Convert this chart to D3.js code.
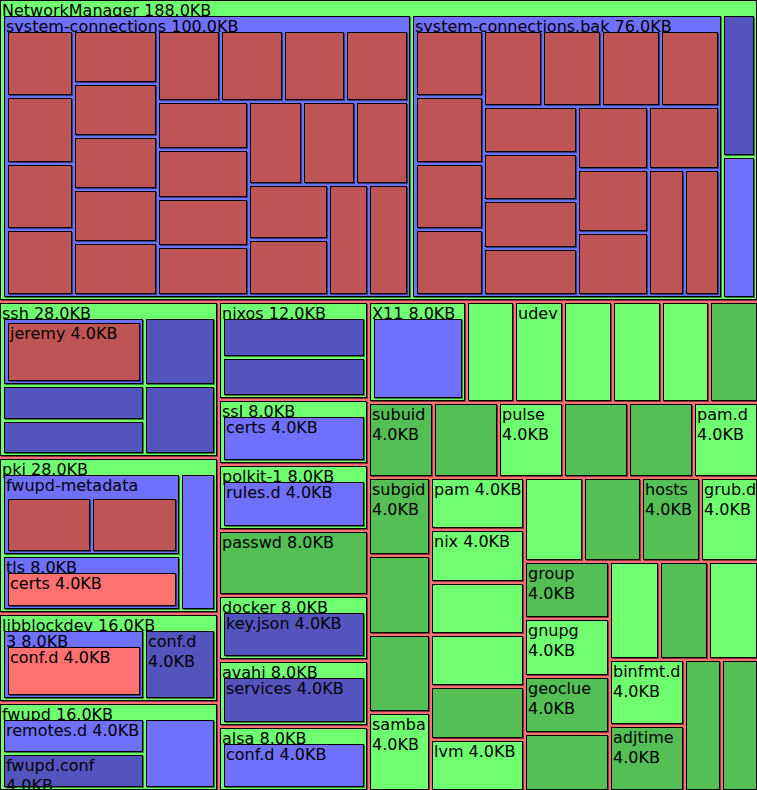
<!DOCTYPE html>
<html><head><meta charset="utf-8">
<script src="https://cdn.jsdelivr.net/npm/d3@7"></script>
<style>html,body{margin:0;padding:0;background:#fff;} svg{display:block}</style>
</head><body>
<svg id="chart" width="757" height="790"></svg>
<script>
// ---------------- DATA (sizes in KB, "d" = directory, "f" = file) ----------------
const etcNames = ["NetworkManager","ssh","pki","libblockdev","fwupd",
  "nixos","ssl","polkit-1","passwd","docker","avahi","alsa",
  "X11","wireplumber","udev","tmpfiles.d","systemd","sysctl.d","vconsole.conf",
  "subuid","resolv.conf","pulse","protocols","os-release","pam.d",
  "subgid","sudoers","services","samba",
  "pam","nix","modprobe.d","modules-load.d","nsswitch.conf","lvm",
  "iproute2","host.conf","hosts","grub.d",
  "group","gnupg","geoclue","environment",
  "dbus-1","crypttab","default",
  "binfmt.d","adjtime",
  "bashrc","asound.conf"];
const etcKinds = ["d","d","d","d","d",
  "d","d","d","f","d","d","d",
  "d","d","d","d","d","d","f",
  "f","f","d","f","f","d",
  "f","f","f","d",
  "d","d","d","d","f","d",
  "d","f","f","d",
  "f","d","f","f",
  "d","f","d",
  "d","f",
  "f","f"];
const etcSizesKB = [188,28,28,16,16,
  12,8,8,8,8,8,8,
  8,4,4,4,4,4,4,
  4,4,4,4,4,4,
  4,4,4,4,
  4,4,4,4,4,4,
  4,4,4,4,
  4,4,4,4,
  4,4,4,
  4,4,
  4,4];
const etcRows = [1,4,7,7,6,4,6,4,4,3,2,2];

const nmNames = ["system-connections","system-connections.bak","NetworkManager.conf","dispatcher.d"];
const nmKinds = ["d","d","f","d"];
const nmSizesKB = [100,76,4,4];
const nmRows = [1,1,1,1];

const connNames = ["Wired connection 1.nmconnection","eduroam.nmconnection","Home.nmconnection","Home-5G.nmconnection",
  "CoffeeShop.nmconnection","Airport_Free_WiFi.nmconnection","Hotel-Guest.nmconnection","Library.nmconnection","Office.nmconnection",
  "Office-Guest.nmconnection","Phone Hotspot.nmconnection","Train WiFi.nmconnection","Parents.nmconnection",
  "Conference.nmconnection","Cowork.nmconnection","Campus.nmconnection","Guest.nmconnection",
  "Studio.nmconnection","Cafe-Nero.nmconnection","Gymnasium.nmconnection",
  "Laboratory.nmconnection","VPN-work.nmconnection",
  "wg0.nmconnection","Bridge.nmconnection"];
const connKinds = ["f","f","f","f","f","f","f","f","f","f","f","f","f","f","f","f","f","f","f","f","f","f","f","f"];
const connSizesKB = [4,4,4,4,4,4,4,4,4,4,4,4,4,4,4,4,4,4,4,4,4,4,4,4];
const connRows = [4,5,4,4,3,2,2];

const bakNames = ["Wired connection 1.nmconnection","eduroam.nmconnection","Home.nmconnection","Home-5G.nmconnection",
  "CoffeeShop.nmconnection","Hotel-Guest.nmconnection","Library.nmconnection","Office.nmconnection",
  "Office-Guest.nmconnection","Phone Hotspot.nmconnection","Train WiFi.nmconnection","Parents.nmconnection",
  "Conference.nmconnection","Cowork.nmconnection","Campus.nmconnection","Guest.nmconnection",
  "VPN-work.nmconnection","wg0.nmconnection"];
const bakKinds = ["f","f","f","f","f","f","f","f","f","f","f","f","f","f","f","f","f","f"];
const bakSizesKB = [4,4,4,4,4,4,4,4,4,4,4,4,4,4,4,4,4,4];
const bakRows = [4,4,4,2,2,2];

const sshNames = ["authorized_keys.d","ssh_host_ecdsa_key","ssh_host_ed25519_key","ssh_config","sshd_config"];
const sshKinds = ["d","f","f","f","f"];
const sshSizesKB = [8,4,4,4,4];
const sshRows = [3,1,1];
const sshKeysNames = ["jeremy"], sshKeysKinds = ["f"], sshKeysSizesKB = [4];

const pkiNames = ["fwupd-metadata","tls","fwupd"];
const pkiKinds = ["d","d","d"];
const pkiSizesKB = [12,8,4];
const pkiRows = [2,1];
const fwMetaNames = ["LVFS-CA.pem","GPG-KEY-Linux-Foundation-Metadata"], fwMetaKinds = ["f","f"], fwMetaSizesKB = [4,4];
const tlsNames = ["certs"], tlsKinds = ["d"], tlsSizesKB = [4];

const lbdNames = ["3","conf.d"], lbdKinds = ["d","f"], lbdSizesKB = [8,4];
const lbd3Names = ["conf.d"], lbd3Kinds = ["d"], lbd3SizesKB = [4];

const fwupdNames = ["remotes.d","fwupd.conf","bios-settings.d"], fwupdKinds = ["d","f","d"], fwupdSizesKB = [4,4,4];
const fwupdRows = [2,1];

const nixosNames = ["hardware-configuration.nix","networking-configuration.nix"], nixosKinds = ["f","f"], nixosSizesKB = [4,4];
const nixosRows = [2];

const sslNames = ["certs"], sslKinds = ["d"], sslSizesKB = [4];
const polkitNames = ["rules.d"], polkitKinds = ["d"], polkitSizesKB = [4];
const dockerNames = ["key.json"], dockerKinds = ["f"], dockerSizesKB = [4];
const avahiNames = ["services"], avahiKinds = ["f"], avahiSizesKB = [4];
const alsaNames = ["conf.d"], alsaKinds = ["d"], alsaSizesKB = [4];
const x11Names = ["xorg.conf.d"], x11Kinds = ["d"], x11SizesKB = [4];

// ---------------- BUILD HIERARCHY ----------------
function dir(names, kinds, sizes, rows) { return {names, kinds, sizes, rows}; }
const tree = {
  "": dir(etcNames, etcKinds, etcSizesKB, etcRows),
  "NetworkManager": dir(nmNames, nmKinds, nmSizesKB, nmRows),
  "NetworkManager/system-connections": dir(connNames, connKinds, connSizesKB, connRows),
  "NetworkManager/system-connections.bak": dir(bakNames, bakKinds, bakSizesKB, bakRows),
  "ssh": dir(sshNames, sshKinds, sshSizesKB, sshRows),
  "ssh/authorized_keys.d": dir(sshKeysNames, sshKeysKinds, sshKeysSizesKB),
  "pki": dir(pkiNames, pkiKinds, pkiSizesKB, pkiRows),
  "pki/fwupd-metadata": dir(fwMetaNames, fwMetaKinds, fwMetaSizesKB, [1,1]),
  "pki/tls": dir(tlsNames, tlsKinds, tlsSizesKB),
  "libblockdev": dir(lbdNames, lbdKinds, lbdSizesKB, [1,1]),
  "libblockdev/3": dir(lbd3Names, lbd3Kinds, lbd3SizesKB),
  "fwupd": dir(fwupdNames, fwupdKinds, fwupdSizesKB, fwupdRows),
  "nixos": dir(nixosNames, nixosKinds, nixosSizesKB, nixosRows),
  "ssl": dir(sslNames, sslKinds, sslSizesKB),
  "polkit-1": dir(polkitNames, polkitKinds, polkitSizesKB),
  "docker": dir(dockerNames, dockerKinds, dockerSizesKB),
  "avahi": dir(avahiNames, avahiKinds, avahiSizesKB),
  "alsa": dir(alsaNames, alsaKinds, alsaSizesKB),
  "X11": dir(x11Names, x11Kinds, x11SizesKB)
};
function build(path, name, kind, kb) {
  const node = {name, kind, kb};
  const d = tree[path];
  if (d) {
    node.rows = d.rows || [d.names.length];
    node.children = d.names.map((n, i) => build(path ? path + "/" + n : n, n, d.kinds[i], d.sizes[i]));
  }
  return node;
}
const rootData = build("", "etc", "d", d3.sum(etcSizesKB));

// ---------------- LAYOUT ----------------
const W = 757, H = 790;
const palette = { d: ["#ff7070", "#70ff70", "#7070ff"], f: ["#bf5454", "#54bf54", "#5454bf"] };
const ctx = document.createElement("canvas").getContext("2d");
ctx.font = "16px 'DejaVu Sans'";
const textW = s => ctx.measureText(s).width;
const fmt = kb => kb.toFixed(1) + "KB";

function headerFor(n) {
  const w = n.x1 - n.x0;
  const full = n.data.name + " " + fmt(n.data.kb);
  if (textW(full) + 2 <= w) return {text: full, full: true};
  if (textW(n.data.name) + 2 <= w) return {text: n.data.name, full: false};
  return null;
}
function leafLines(n) {
  const w = n.x1 - n.x0;
  const size = fmt(n.data.kb);
  const full = n.data.name + " " + size;
  if (textW(full) + 2 <= w) return [full];
  if (textW(n.data.name) + 2 <= w) return textW(size) + 2 <= w ? [n.data.name, size] : [n.data.name];
  return [];
}

// rows of children laid with d3's own dice / slice
function tileRows(parent, x0, y0, x1, y1) {
  const kids = parent.children;
  const counts = parent.data.rows;
  let remaining = d3.sum(kids, c => c.value);
  let i = 0;
  counts.forEach((n, r) => {
    const group = kids.slice(i, i + n);
    const v = d3.sum(group, c => c.value);
    const row = {value: v, children: group};
    const dx = x1 - x0, dy = y1 - y0;
    const last = r === counts.length - 1;
    if (dx < dy * 1.01) {
      const yb = last ? y1 : y0 + dy * v / remaining;
      d3.treemapDice(row, x0, y0, x1, yb);
      y0 = yb;
    } else {
      const xb = last ? x1 : x0 + dx * v / remaining;
      d3.treemapSlice(row, x0, y0, xb, y1);
      x0 = xb;
    }
    remaining -= v; i += n;
  });
}

const root = d3.hierarchy(rootData);
root.each(n => { n.value = n.data.kb; });

d3.treemap()
  .size([W, H])
  .tile(tileRows)
  .paddingInner(3)
  .paddingLeft(n => n.depth ? 4 : 0)
  .paddingRight(n => n.depth ? 3 : 0)
  .paddingBottom(n => n.depth ? 3 : 0)
  .paddingTop(n => {
    if (n.depth === 0) return 0;
    n.header = headerFor(n);
    return n.header ? (n.header.full ? 16 : 24) : 4;
  })(root);

// ---------------- DRAW ----------------
const svg = d3.select("#chart");
root.descendants().forEach(n => {
  const g = svg.append("g");
  const x0 = Math.round(n.x0), y0 = Math.round(n.y0), x1 = Math.round(n.x1), y1 = Math.round(n.y1);
  const fill = palette[n.data.kind][n.depth % 3];
  if (n.depth === 0) {
    g.append("rect").attr("x", x0).attr("y", y0).attr("width", x1 - x0).attr("height", y1 - y0).attr("fill", fill);
    return;
  }
  g.append("rect").attr("x", x0 + 1).attr("y", y0 + 1)
    .attr("width", x1 - x0).attr("height", y1 - y0).attr("fill", "rgba(0,0,0,0.5)");
  g.append("rect").attr("x", x0 + 0.5).attr("y", y0 + 0.5)
    .attr("width", Math.max(0, x1 - x0 - 1)).attr("height", Math.max(0, y1 - y0 - 1))
    .attr("fill", fill).attr("stroke", "#000").attr("stroke-width", 1);
  const lines = n.children ? (n.header ? [n.header.text] : []) : leafLines(n);
  lines.forEach((t, i) => {
    g.append("text")
      .attr("x", x0 + 2).attr("y", y0 + 15.5 + 20 * i)
      .attr("font-family", "'DejaVu Sans'").attr("font-size", 16).attr("fill", "#000")
      .text(t);
  });
});
</script>
</body></html>
